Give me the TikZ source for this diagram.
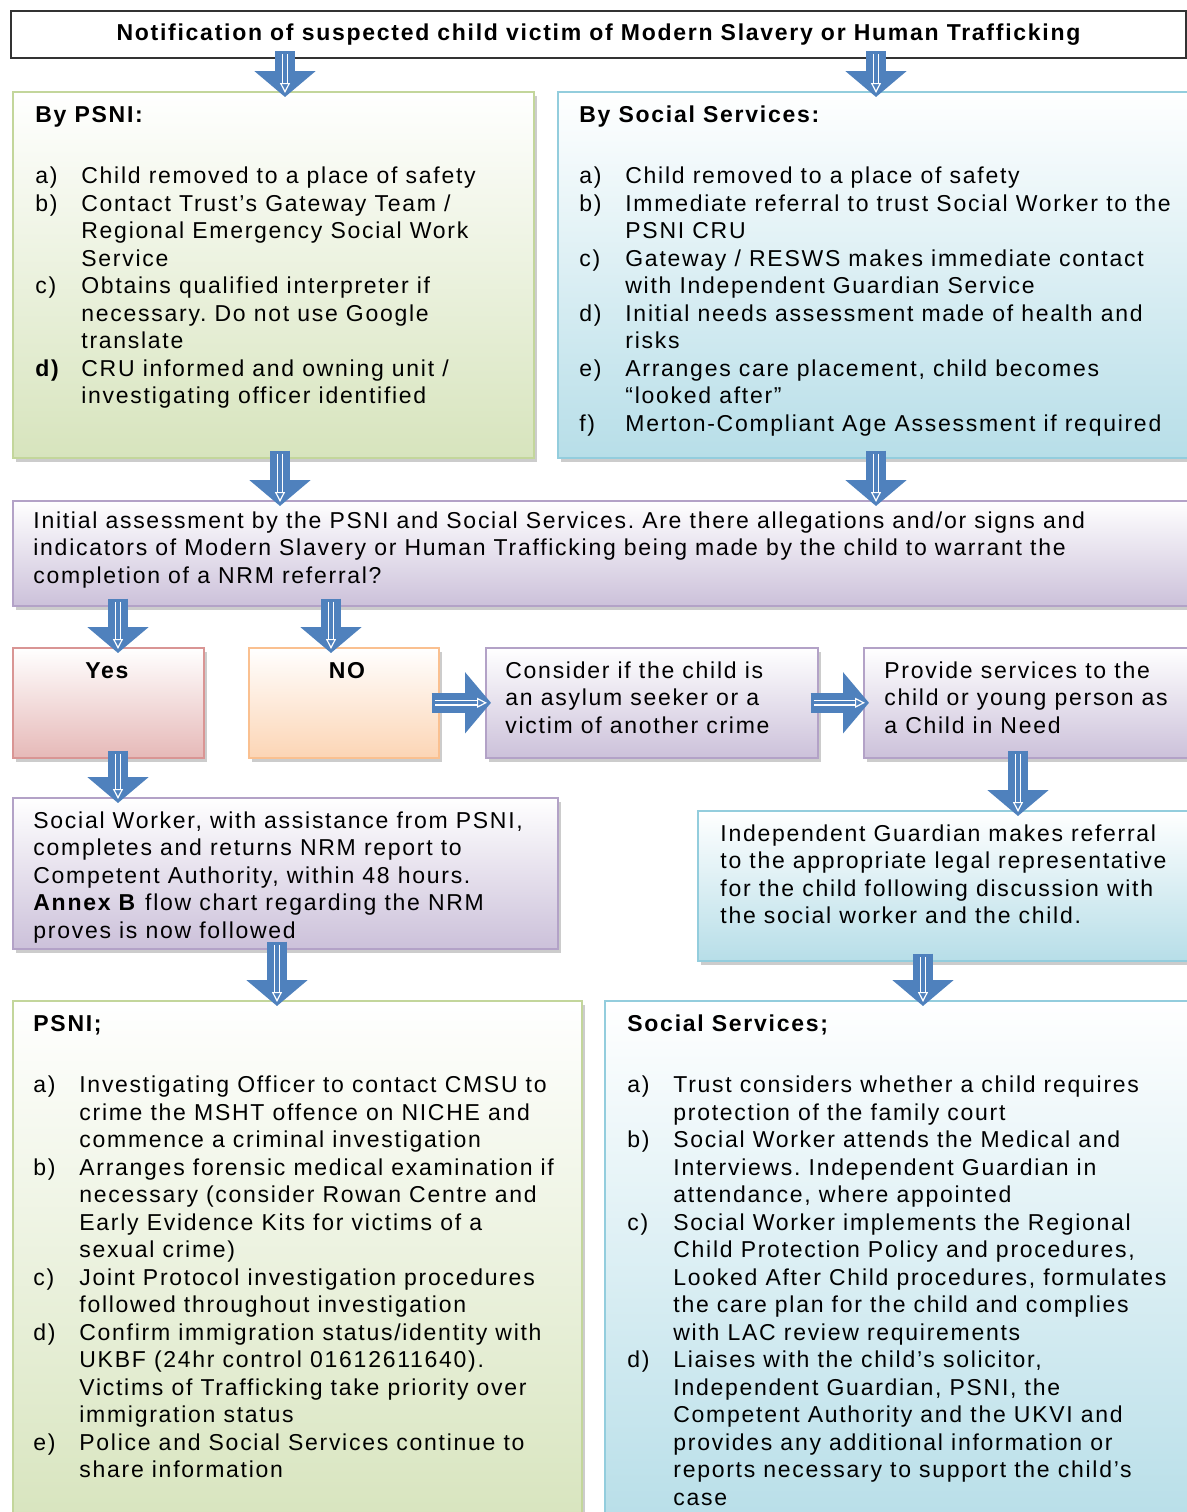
\documentclass[tikz,border=0pt]{standalone}
\usepackage{fontspec}
\setmainfont{Liberation Sans}[LetterSpace=7.5]
\usepackage{array}
\usetikzlibrary{arrows.meta,shadows}
\frenchspacing

\definecolor{arrowblue}{HTML}{4F81BD}
\definecolor{greenline}{HTML}{C3D69B}
\definecolor{greenfill}{HTML}{D7E4BD}
\definecolor{blueline}{HTML}{93CDDD}
\definecolor{bluefill}{HTML}{B7DEE8}
\definecolor{purpleline}{HTML}{B3A2C7}
\definecolor{purplefill}{HTML}{CCC1DA}
\definecolor{redline}{HTML}{D99594}
\definecolor{redfill}{HTML}{E6B9B8}
\definecolor{orangeline}{HTML}{FAC090}
\definecolor{orangefill}{HTML}{FCD5B5}

\newcommand{\steplist}[1]{\begin{tabular}[t]{@{}p{23pt}@{}l@{}}#1\end{tabular}}
\newcommand{\textlines}[1]{\begin{tabular}[t]{@{}l@{}}#1\end{tabular}}

\tikzset{
  box/.style={inner sep=0pt, anchor=north west, line width=0.8pt,
    drop shadow={shadow xshift=1.5pt, shadow yshift=-2pt, fill=black!40}},
  greenbox/.style={box, draw=greenline, top color=white, bottom color=greenfill},
  bluebox/.style={box, draw=blueline, top color=white, bottom color=bluefill},
  purplebox/.style={box, draw=purpleline, top color=white, bottom color=purplefill},
  redbox/.style={box, draw=redline, top color=white, bottom color=redfill},
  orangebox/.style={box, draw=orangeline, top color=white, bottom color=orangefill},
  txt/.style={inner sep=0pt, anchor=base west, font=\fontsize{11.5}{13.75}\selectfont},
  flow/.style={line width=10pt, draw=arrowblue, -{Triangle[length=13pt,width=30pt]},
    shorten <=-4pt, shorten >=-3pt,
    postaction={draw=white, line width=0.6pt, double=arrowblue, double distance=1.6pt,
      -{Triangle[open,length=5pt,width=5pt]}, shorten <=-2.5pt, shorten >=-1pt}}
}

\begin{document}
\begin{tikzpicture}[x=0.5pt,y=-0.5pt]
  \useasboundingbox (0,0) rectangle (1187,1512);
  \clip (0,0) rectangle (1187,1512);

  % top notification
  \node[inner sep=0pt, anchor=north west, draw=black!80, line width=1pt, fill=white,
    minimum width=587.5pt, minimum height=23.5pt,
    font=\bfseries\fontsize{11.5}{13.75}\selectfont] (title) at (10,10)
    {Notification of suspected child victim of Modern Slavery or Human Trafficking};

  % first responses
  \node[greenbox, minimum width=260.5pt, minimum height=183pt] (psni) at (12,91) {};
  \node[bluebox, minimum width=321.5pt, minimum height=183pt] (ss) at (557,91) {};
  \node[txt] (psni-txt) at (35,122) {\steplist{
    \multicolumn{2}{@{}l@{}}{\textbf{By PSNI:}}\\[17pt]
    a) & Child removed to a place of safety\\
    b) & Contact Trust’s Gateway Team /\\
       & Regional Emergency Social Work\\
       & Service\\
    c) & Obtains qualified interpreter if\\
       & necessary. Do not use Google\\
       & translate\\
    \textbf{d)} & CRU informed and owning unit /\\
       & investigating officer identified}};
  \node[txt] (ss-txt) at (579,122) {\steplist{
    \multicolumn{2}{@{}l@{}}{\textbf{By Social Services:}}\\[17pt]
    a) & Child removed to a place of safety\\
    b) & Immediate referral to trust Social Worker to the\\
       & PSNI CRU\\
    c) & Gateway / RESWS makes immediate contact\\
       & with Independent Guardian Service\\
    d) & Initial needs assessment made of health and\\
       & risks\\
    e) & Arranges care placement, child becomes\\
       & “looked after”\\
    f) & Merton-Compliant Age Assessment if required}};

  % initial assessment
  \node[purplebox, minimum width=594pt, minimum height=52.5pt] (assess) at (12,500) {};
  \node[txt] (assess-txt) at (33,528) {\textlines{
    Initial assessment by the PSNI and Social Services. Are there allegations and/or signs and\\
    indicators of Modern Slavery or Human Trafficking being made by the child to warrant the\\
    completion of a NRM referral?}};

  % decision row
  \node[redbox, minimum width=95.5pt, minimum height=55pt] (yes) at (12,647) {};
  \node[orangebox, minimum width=95pt, minimum height=55pt] (no) at (248,647) {};
  \node[purplebox, minimum width=166pt, minimum height=55pt] (consider) at (485,647) {};
  \node[purplebox, minimum width=168.5pt, minimum height=55pt] (provide) at (863,647) {};
  \node[txt, anchor=base, font=\bfseries\fontsize{11.5}{13.75}\selectfont] (yes-txt) at (107,678) {Yes};
  \node[txt, anchor=base, font=\bfseries\fontsize{11.5}{13.75}\selectfont] (no-txt) at (347,678) {NO};
  \node[txt] (consider-txt) at (505,678) {\textlines{
    Consider if the child is\\ an asylum seeker or a\\ victim of another crime}};
  \node[txt] (provide-txt) at (884,678) {\textlines{
    Provide services to the\\ child or young person as\\ a Child in Need}};

  % referral row
  \node[purplebox, minimum width=272.5pt, minimum height=75.5pt] (sw) at (12,797) {};
  \node[bluebox, minimum width=251.5pt, minimum height=75pt] (ig) at (697,810) {};
  \node[txt] (sw-txt) at (33,828) {\textlines{
    Social Worker, with assistance from PSNI,\\
    completes and returns NRM report to\\
    Competent Authority, within 48 hours.\\
    \textbf{Annex B} flow chart regarding the NRM\\
    proves is now followed}};
  \node[txt] (ig-txt) at (720,841) {\textlines{
    Independent Guardian makes referral\\
    to the appropriate legal representative\\
    for the child following discussion with\\
    the social worker and the child.}};

  % follow-up actions
  \node[greenbox, minimum width=284.5pt, minimum height=265pt] (psni2) at (12,1000) {};
  \node[bluebox, minimum width=298pt, minimum height=265pt] (ss2) at (604,1000) {};
  \node[txt] (psni2-txt) at (33,1031) {\steplist{
    \multicolumn{2}{@{}l@{}}{\textbf{PSNI;}}\\[17pt]
    a) & Investigating Officer to contact CMSU to\\
       & crime the MSHT offence on NICHE and\\
       & commence a criminal investigation\\
    b) & Arranges forensic medical examination if\\
       & necessary (consider Rowan Centre and\\
       & Early Evidence Kits for victims of a\\
       & sexual crime)\\
    c) & Joint Protocol investigation procedures\\
       & followed throughout investigation\\
    d) & Confirm immigration status/identity with\\
       & UKBF (24hr control 01612611640).\\
       & Victims of Trafficking take priority over\\
       & immigration status\\
    e) & Police and Social Services continue to\\
       & share information}};
  \node[txt] (ss2-txt) at (627,1031) {\steplist{
    \multicolumn{2}{@{}l@{}}{\textbf{Social Services;}}\\[17pt]
    a) & Trust considers whether a child requires\\
       & protection of the family court\\
    b) & Social Worker attends the Medical and\\
       & Interviews. Independent Guardian in\\
       & attendance, where appointed\\
    c) & Social Worker implements the Regional\\
       & Child Protection Policy and procedures,\\
       & Looked After Child procedures, formulates\\
       & the care plan for the child and complies\\
       & with LAC review requirements\\
    d) & Liaises with the child’s solicitor,\\
       & Independent Guardian, PSNI, the\\
       & Competent Authority and the UKVI and\\
       & provides any additional information or\\
       & reports necessary to support the child’s\\
       & case}};

  % block arrows
  \draw[flow] (285,0 |- title.south) -- (285,0 |- psni.north);
  \draw[flow] (876,0 |- title.south) -- (876,0 |- ss.north);
  \draw[flow] (280,0 |- psni.south) -- (280,0 |- assess.north);
  \draw[flow] (876,0 |- ss.south) -- (876,0 |- assess.north);
  \draw[flow] (118,0 |- assess.south) -- (118,0 |- yes.north);
  \draw[flow] (331,0 |- assess.south) -- (331,0 |- no.north);
  \draw[flow] (no.east) -- (consider.west);
  \draw[flow] (consider.east) -- (provide.west);
  \draw[flow] (118,0 |- yes.south) -- (118,0 |- sw.north);
  \draw[flow] (1018,0 |- provide.south) -- (1018,0 |- ig.north);
  \draw[flow] (277,0 |- sw.south) -- (277,0 |- psni2.north);
  \draw[flow] (923,0 |- ig.south) -- (923,0 |- ss2.north);
\end{tikzpicture}
\end{document}
